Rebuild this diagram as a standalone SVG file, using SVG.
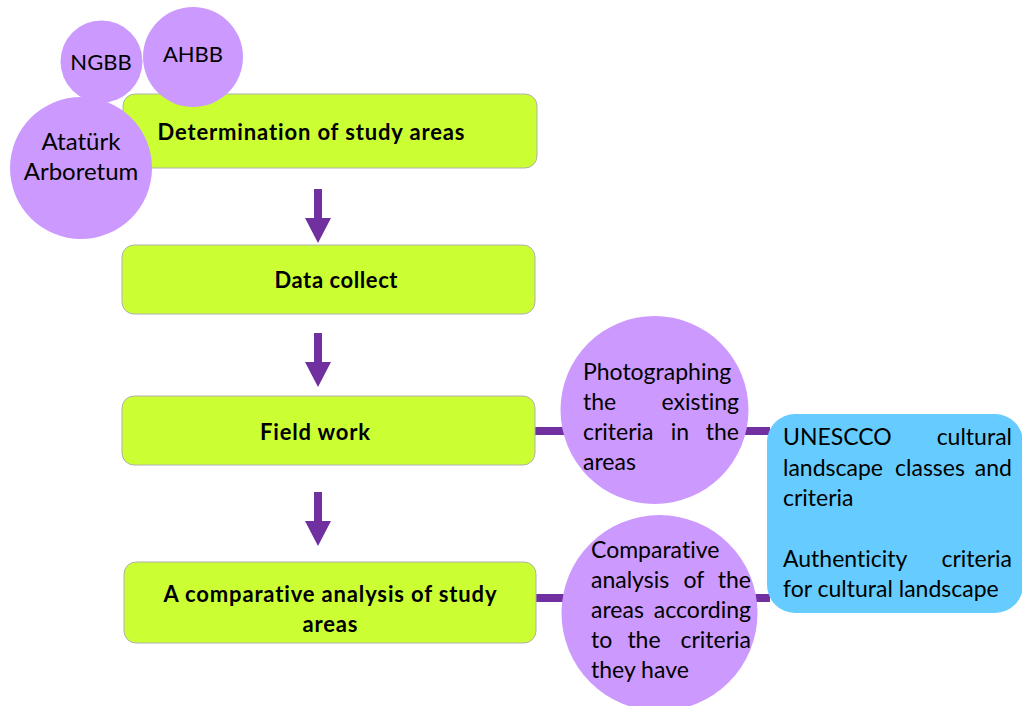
<svg xmlns="http://www.w3.org/2000/svg" width="1022" height="706" viewBox="0 0 1022 706">
<style>
.box{fill:#CCFF33;stroke:#B0B0B0;stroke-width:1}
.circ{fill:#CC99FF}
.blue{fill:#66CCFF}
.conn{stroke:#7030A0;stroke-width:8;fill:none}
.arrow{fill:#7030A0}
text{font-family:Lato,"Open Sans","Liberation Sans",sans-serif;fill:#000;font-variant-ligatures:none}
.bt{font-size:22px;font-weight:bold;text-anchor:middle}
.ct{font-size:23px}
.cm{font-size:22px;text-anchor:middle}
.mid{text-anchor:middle}
.end{text-anchor:end}
</style>
<defs>
<path id="arr" d="M-4,0 H4 V29 H13 L0,54 L-13,29 H-4 Z"/>
</defs>
<rect width="1022" height="706" fill="#fff"/>
<g id="connectors">
<line class="conn" x1="534" y1="431" x2="770" y2="431"/>
<line class="conn" x1="535" y1="598" x2="770" y2="598"/>
<use href="#arr" class="arrow" x="318" y="189"/>
<use href="#arr" class="arrow" x="318" y="333"/>
<use href="#arr" class="arrow" x="318" y="492"/>
</g>
<g id="n-determination">
<rect class="box" x="123" y="94" width="414" height="74" rx="12"/>
<text class="bt" x="311" y="140" textLength="307" lengthAdjust="spacing">Determination of study areas</text>
</g>
<g id="n-data">
<rect class="box" x="122" y="245" width="413" height="69" rx="12"/>
<text class="bt" x="336" y="288" textLength="123" lengthAdjust="spacing">Data collect</text>
</g>
<g id="n-field">
<rect class="box" x="122" y="396" width="413" height="69" rx="12"/>
<text class="bt" x="315" y="440" textLength="110" lengthAdjust="spacing">Field work</text>
</g>
<g id="n-comparative">
<rect class="box" x="124" y="562" width="412" height="81" rx="12"/>
<text class="bt" x="330" y="602" textLength="333" lengthAdjust="spacing">A comparative analysis of study</text>
<text class="bt" x="330" y="632" textLength="55" lengthAdjust="spacing">areas</text>
</g>
<g id="n-ngbb">
<circle class="circ" cx="101.5" cy="61.5" r="41"/>
<text class="cm" x="101" y="70">NGBB</text>
</g>
<g id="n-ahbb">
<circle class="circ" cx="193" cy="57" r="50"/>
<text class="cm" x="193" y="62">AHBB</text>
</g>
<g id="n-ataturk">
<circle class="circ" cx="81" cy="168" r="71"/>
<text class="cm" x="81" y="150" style="font-size:24px">Atatürk</text>
<text class="cm" x="81" y="180" style="font-size:24px">Arboretum</text>
</g>
<g id="n-photographing">
<circle class="circ" cx="654.5" cy="410" r="94"/>
<text class="ct" x="583" y="380">Photographing</text>
<text class="ct" x="583" y="410">the</text>
<text class="ct end" x="739" y="410">existing</text>
<text class="ct" x="583" y="440">criteria</text>
<text class="ct mid" x="680" y="440">in</text>
<text class="ct end" x="739" y="440">the</text>
<text class="ct" x="583" y="470">areas</text>
</g>
<g id="n-comparative-circle">
<circle class="circ" cx="659.5" cy="613" r="98"/>
<text class="ct" x="591" y="558">Comparative</text>
<text class="ct" x="591" y="588">analysis</text>
<text class="ct mid" x="694" y="588">of</text>
<text class="ct end" x="751" y="588">the</text>
<text class="ct" x="591" y="618">areas</text>
<text class="ct end" x="751" y="618">according</text>
<text class="ct" x="591" y="648">to</text>
<text class="ct mid" x="644" y="648">the</text>
<text class="ct end" x="751" y="648">criteria</text>
<text class="ct" x="591" y="678">they have</text>
</g>
<g id="n-unesco">
<rect class="blue" x="767" y="414" width="256" height="199" rx="28"/>
<text class="ct" x="783" y="445">UNESCCO</text>
<text class="ct end" x="1012" y="445">cultural</text>
<text class="ct" x="783" y="476">landscape</text>
<text class="ct mid" x="930" y="476">classes</text>
<text class="ct end" x="1012" y="476">and</text>
<text class="ct" x="783" y="506">criteria</text>
<text class="ct" x="783" y="567">Authenticity</text>
<text class="ct end" x="1012" y="567">criteria</text>
<text class="ct" x="783" y="597">for cultural landscape</text>
</g>
</svg>
